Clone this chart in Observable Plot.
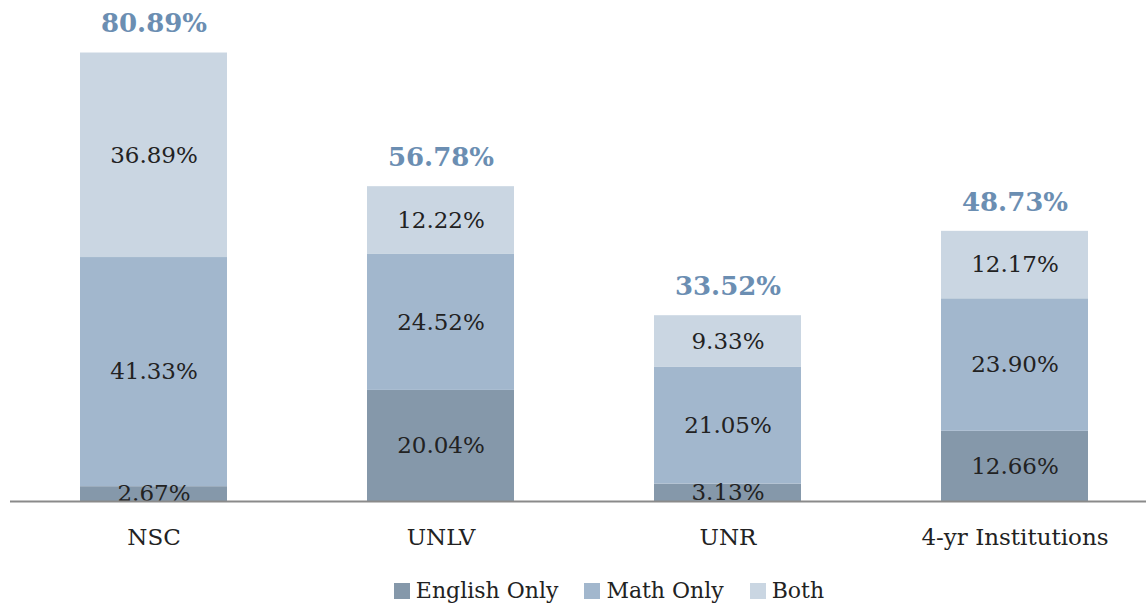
<!DOCTYPE html>
<html><head><meta charset="utf-8">
<script src="https://cdn.jsdelivr.net/npm/d3@7"></script>
<script src="https://cdn.jsdelivr.net/npm/@observablehq/plot@0.6"></script>
<style>
body{margin:0;background:#fff;font-family:"DejaVu Serif",serif;}
#legend{display:flex;justify-content:center;gap:26px;font-size:22px;color:#222;margin-top:18px;padding-left:72px;}
#legend span.sw{display:inline-block;width:16px;height:16px;margin-right:6px;vertical-align:-1px;}
</style></head>
<body>
<div id="chart"></div>
<div id="legend"></div>
<script>
const categories = ["NSC", "UNLV", "UNR", "4-yr Institutions"];
const series = ["English Only", "Math Only", "Both"];
const englishOnly = [2.67, 20.04, 3.13, 12.66];
const mathOnly = [41.33, 24.52, 21.05, 23.90];
const both = [36.89, 12.22, 9.33, 12.17];
const totals = [80.89, 56.78, 33.52, 48.73];
const colors = ["#8598aa", "#a2b7cd", "#cad6e2"];

const values = [englishOnly, mathOnly, both];
const data = [];
categories.forEach((c, i) => {
  series.forEach((s, j) => data.push({category: c, series: s, value: values[j][i]}));
});
const totalData = categories.map((c, i) => ({category: c, total: totals[i]}));

const plot = Plot.plot({
  width: 1146,
  height: 560,
  marginLeft: 10,
  marginRight: 0,
  marginTop: 2,
  marginBottom: 59,
  style: {fontFamily: "DejaVu Serif, serif", background: "#fff"},
  x: {domain: categories, paddingInner: 0.488, paddingOuter: 0.223, align: 0.547, label: null, axis: null},
  y: {domain: [0, 90], axis: null},
  color: {domain: series, range: colors},
  marks: [
    Plot.barY(data, Plot.stackY({x: "category", y: "value", fill: "series", order: series})),
    Plot.text(data, Plot.stackY({x: "category", y: "value", z: "series", order: series, text: d => d.value.toFixed(2) + "%", fill: "#222", fontSize: 23})),
    Plot.ruleY([0], {stroke: "#8a8a8a", strokeWidth: 2}),
    Plot.text(totalData, {x: "category", y: "total", text: d => d.total.toFixed(2) + "%", dy: -29, fill: "#6b8eb2", fontWeight: "bold", fontSize: 26}),
    Plot.axisX({tickSize: 0, tickPadding: 27, fontSize: 23, color: "#222", label: null})
  ]
});
document.getElementById("chart").appendChild(plot);

const legend = document.getElementById("legend");
series.forEach((s, i) => {
  const item = document.createElement("div");
  item.innerHTML = `<span class="sw" style="background:${colors[i]}"></span>${s}`;
  legend.appendChild(item);
});
</script>
</body></html>
